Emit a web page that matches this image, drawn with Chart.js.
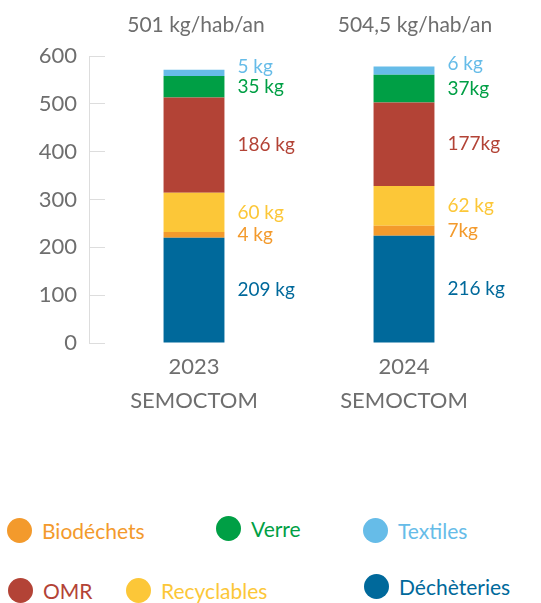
<!DOCTYPE html>
<html lang="fr">
<head>
    <meta charset="UTF-8">
    <title>Tonnages SEMOCTOM</title>
    <script src="https://cdn.jsdelivr.net/npm/chart.js"></script>
    <style>
        body {
            font-family: Lato, "Open Sans", sans-serif;
            background-color: #ffffff;
            margin: 0;
            padding: 0;
        }

        .page {
            position: relative;
            width: 541px;
            height: 603px;
            overflow: hidden;
        }

        .chart-box {
            position: absolute;
            left: 0;
            top: 0;
            width: 541px;
            height: 440px;
        }

        .legende-item {
            position: absolute;
            display: flex;
            align-items: center;
            font-size: 21px;
            white-space: nowrap;
        }

        .legende-item .rond {
            width: 25px;
            height: 25px;
            border-radius: 50%;
            margin-right: 10px;
        }
    </style>
</head>
<body>

    <div class="page">
        <div class="chart-box">
            <canvas id="graficoTonnages"></canvas>
        </div>
        <div id="legende"></div>
    </div>

    <script>
        // catégories (axe x)
        const annees = [['2023', 'SEMOCTOM'], ['2024', 'SEMOCTOM']];
        const totaux = ['501 kg/hab/an', '504,5 kg/hab/an'];

        const dechetteries = [220, 224];
        const biodechets = [12, 21];
        const recyclables = [82, 83];
        const omr = [199, 175];
        const verre = [45, 58];
        const textiles = [13, 17];

        // étiquettes affichées à droite des barres
        const txtDechetteries = ['209 kg', '216 kg'];
        const txtBiodechets = ['4 kg', '7kg'];
        const txtRecyclables = ['60 kg', '62 kg'];
        const txtOmr = ['186 kg', '177kg'];
        const txtVerre = ['35 kg', '37kg'];
        const txtTextiles = ['5 kg', '6 kg'];

        const series = [
            { nom: 'Déchèteries', data: dechetteries, txt: txtDechetteries, couleur: '#00699b' },
            { nom: 'Biodéchets', data: biodechets, txt: txtBiodechets, couleur: '#f39a2c' },
            { nom: 'Recyclables', data: recyclables, txt: txtRecyclables, couleur: '#fcc738' },
            { nom: 'OMR', data: omr, txt: txtOmr, couleur: '#b34336' },
            { nom: 'Verre', data: verre, txt: txtVerre, couleur: '#009f45' },
            { nom: 'Textiles', data: textiles, txt: txtTextiles, couleur: '#66bce8' }
        ];

        // ordre et placement de la légende
        const legendeOrdre = ['Biodéchets', 'Verre', 'Textiles', 'OMR', 'Recyclables', 'Déchèteries'];
        const legendePos = [[7, 532], [216, 530], [363, 532], [8, 592], [126, 592], [364, 588]];

        const grisTexte = '#6e6e6e';

        const etiquettes = {
            id: 'etiquettes',
            afterDatasetsDraw(chart) {
                const ctx = chart.ctx;
                ctx.save();
                ctx.textBaseline = 'middle';
                ctx.textAlign = 'left';
                ctx.font = '19px Lato';
                chart.data.datasets.forEach((ds, i) => {
                    const meta = chart.getDatasetMeta(i);
                    meta.data.forEach((bar, j) => {
                        let y = (bar.y + bar.base) / 2;
                        if (i === chart.data.datasets.length - 1) y = bar.y - 3;
                        ctx.fillStyle = ds.backgroundColor;
                        ctx.fillText(series[i].txt[j], bar.x + bar.width / 2 + 13, y);
                    });
                });
                // totaux au-dessus
                const meta0 = chart.getDatasetMeta(0);
                ctx.textAlign = 'center';
                ctx.font = '21px Lato';
                ctx.fillStyle = grisTexte;
                meta0.data.forEach((bar, j) => {
                    ctx.fillText(totaux[j], bar.x + (j === 1 ? 11 : 2), 25);
                });
                ctx.restore();
            }
        };

        const ctx = document.getElementById('graficoTonnages').getContext('2d');
        new Chart(ctx, {
            type: 'bar',
            data: {
                labels: annees,
                datasets: series.map(s => ({
                    label: s.nom,
                    data: s.data,
                    backgroundColor: s.couleur,
                    borderWidth: 0,
                    barPercentage: 0.29,
                    categoryPercentage: 1
                }))
            },
            options: {
                responsive: true,
                maintainAspectRatio: false,
                animation: false,
                layout: {
                    padding: { top: 56, right: 32, left: 0, bottom: 0 }
                },
                plugins: {
                    legend: { display: false },
                    tooltip: { enabled: false }
                },
                scales: {
                    x: {
                        stacked: true,
                        grid: { display: false },
                        border: { display: false },
                        ticks: {
                            color: grisTexte,
                            padding: -1,
                            font: { family: 'Lato', size: 22, lineHeight: 1.55 }
                        },
                        afterFit(s) { s.height = 97; }
                    },
                    y: {
                        stacked: true,
                        min: 0,
                        max: 600,
                        ticks: {
                            stepSize: 100,
                            color: grisTexte,
                            padding: 28,
                            font: { family: 'Lato', size: 22 }
                        },
                        grid: {
                            drawOnChartArea: false,
                            tickLength: -16,
                            color: '#dddddd'
                        },
                        border: { color: '#dddddd' },
                        afterFit(s) { s.width = 89; }
                    }
                }
            },
            plugins: [etiquettes]
        });

        // légende HTML
        const legende = document.getElementById('legende');
        legendeOrdre.forEach((nom, k) => {
            const s = series.find(x => x.nom === nom);
            const item = document.createElement('div');
            item.className = 'legende-item';
            item.style.left = legendePos[k][0] + 'px';
            item.style.top = (legendePos[k][1] - 14) + 'px';
            item.style.color = s.couleur;
            item.innerHTML = '<span class="rond" style="background:' + s.couleur + '"></span>' + nom;
            legende.appendChild(item);
        });
    </script>
</body>
</html>
